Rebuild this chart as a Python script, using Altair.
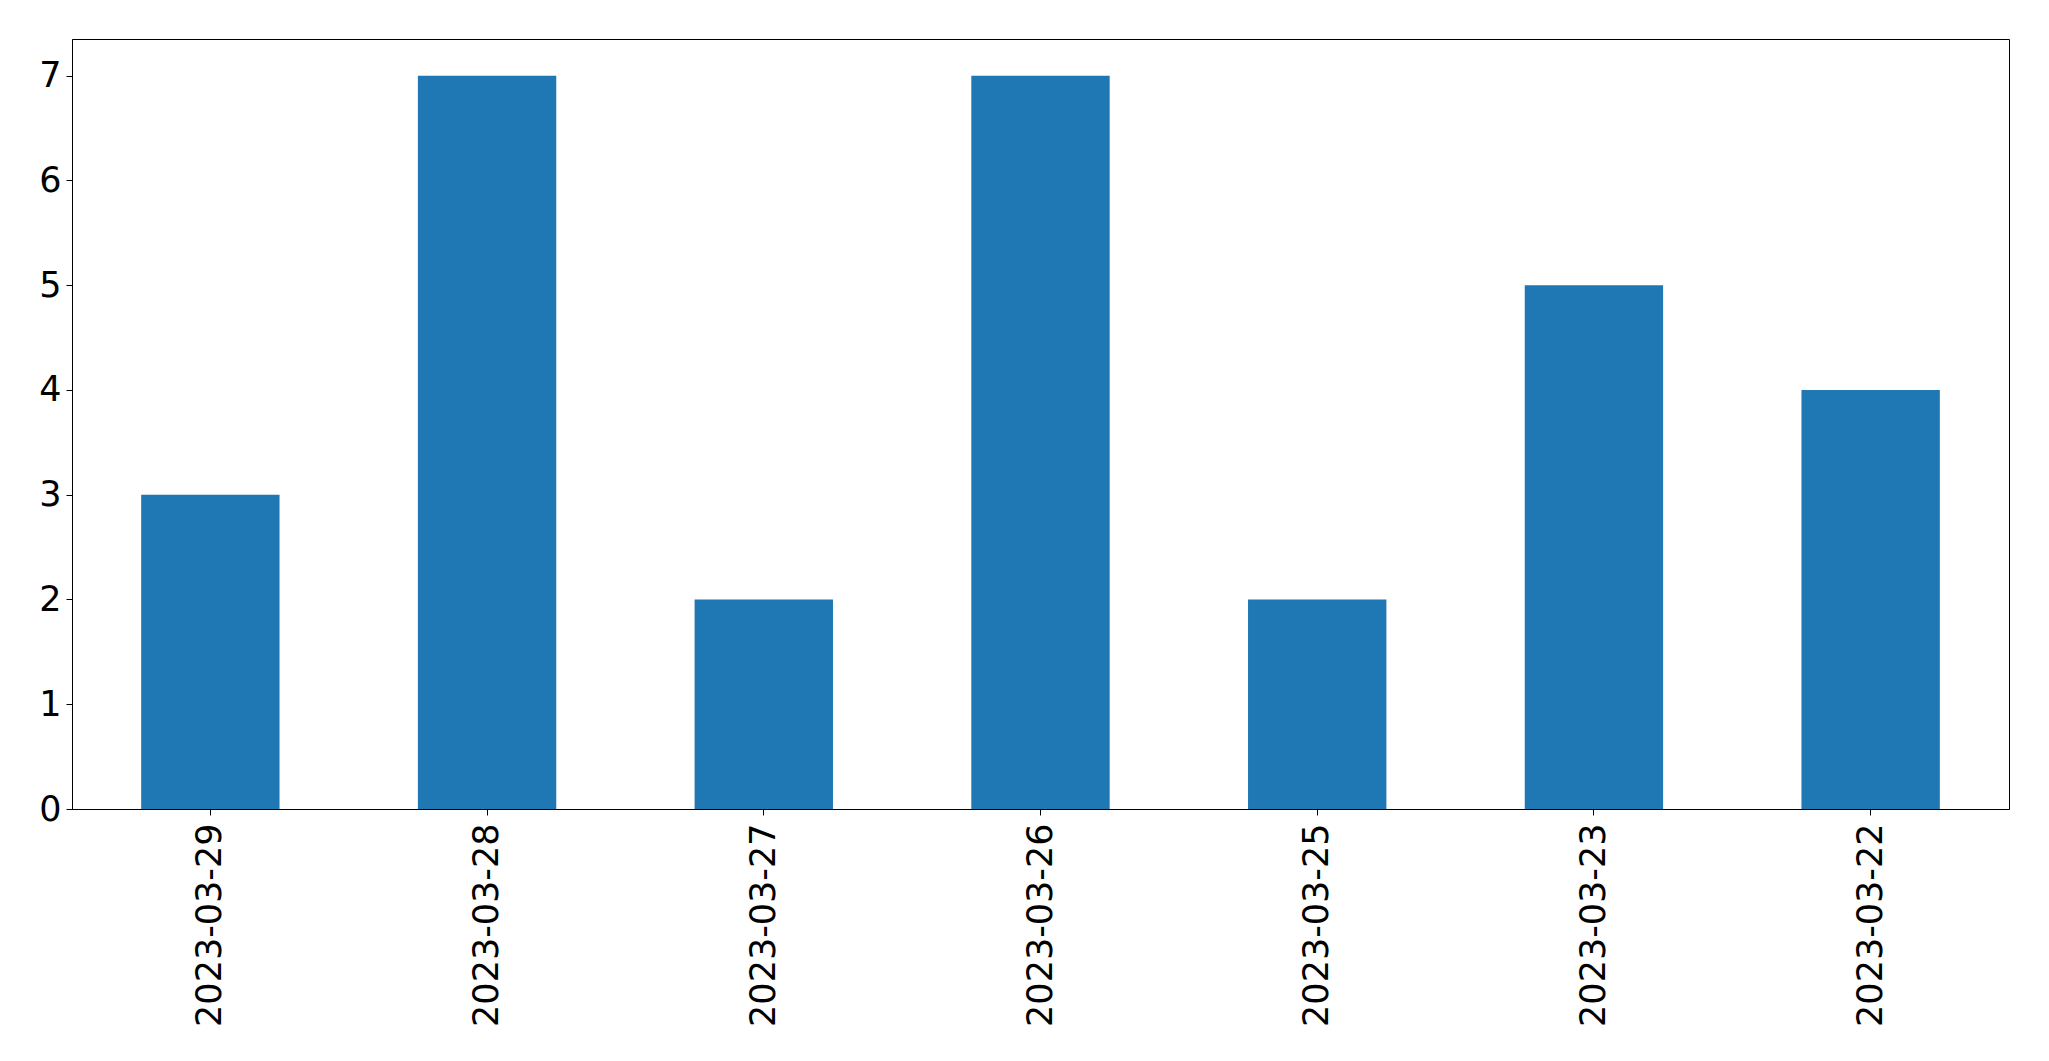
import altair as alt
import pandas as pd

dates = ["2023-03-29", "2023-03-28", "2023-03-27", "2023-03-26",
         "2023-03-25", "2023-03-23", "2023-03-22"]
counts = [3, 7, 2, 7, 2, 5, 4]
y_ticks = [0, 1, 2, 3, 4, 5, 6, 7]

df = pd.DataFrame({"date": dates, "count": counts})

FONT = "DejaVu Sans"

chart = alt.Chart(df).mark_bar(color="#1f77b4").encode(
    x=alt.X("date:N", sort=dates, title=None,
            scale=alt.Scale(paddingInner=0.5, paddingOuter=0.25),
            axis=alt.Axis(labelAngle=-90, labelFontSize=35, labelFont=FONT,
                          labelColor="black", tickColor="black", tickSize=6,
                          labelPadding=8, domainColor="black", domainWidth=1,
                          tickWidth=1, labelLimit=0)),
    y=alt.Y("count:Q", title=None,
            scale=alt.Scale(domain=[0, 7.35], nice=False, zero=True),
            axis=alt.Axis(values=y_ticks, grid=False, labelFontSize=35,
                          labelFont=FONT, labelColor="black", tickColor="black",
                          tickSize=6, labelPadding=5, domainColor="black",
                          domainWidth=1, tickWidth=1, format="d")),
).properties(
    width=1937,
    height=770,
    autosize=alt.AutoSizeParams(type="none"),
    padding={"left": 64, "top": 31, "right": 32, "bottom": 236},
    background="white",
).configure_view(
    stroke="black", strokeWidth=1
)

chart.save("out.html", embed_options={"renderer": "svg", "actions": False})
